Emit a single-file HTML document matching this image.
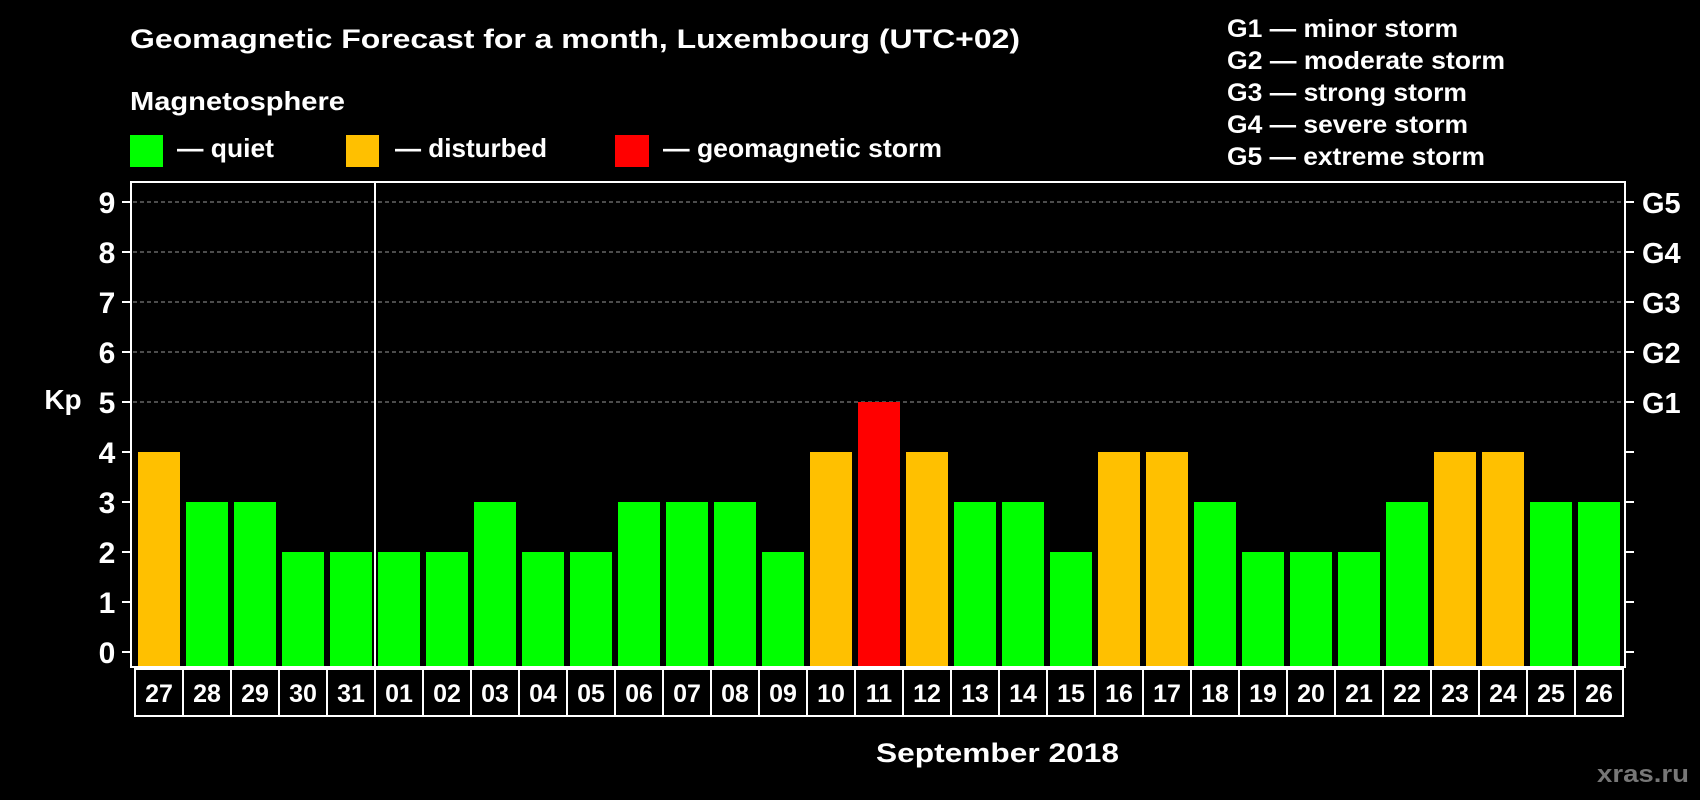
<!DOCTYPE html>
<html><head><meta charset="utf-8"><style>
html,body{margin:0;padding:0;background:#000;}
svg{display:block;font-family:"Liberation Sans",Arial,sans-serif;font-weight:bold;}
</style></head><body>
<svg id="chart" width="1700" height="800" viewBox="0 0 1700 800">
<rect x="0" y="0" width="1700" height="800" fill="#000"/>
<text x="130" y="48" fill="#fff" font-size="27" textLength="890" lengthAdjust="spacingAndGlyphs">Geomagnetic Forecast for a month, Luxembourg (UTC+02)</text>
<text x="130" y="110" fill="#fff" font-size="26" textLength="215" lengthAdjust="spacingAndGlyphs">Magnetosphere</text>
<rect x="130" y="135" width="33" height="32" fill="#00ff00"/>
<text x="177" y="157" fill="#fff" font-size="26" textLength="97" lengthAdjust="spacingAndGlyphs">— quiet</text>
<rect x="346" y="135" width="33" height="32" fill="#ffc000"/>
<text x="395" y="157" fill="#fff" font-size="26" textLength="152" lengthAdjust="spacingAndGlyphs">— disturbed</text>
<rect x="615" y="135" width="34" height="32" fill="#ff0000"/>
<text x="663" y="157" fill="#fff" font-size="26" textLength="279" lengthAdjust="spacingAndGlyphs">— geomagnetic storm</text>
<g fill="#fff" font-size="25">
<text x="1227" y="37" textLength="231" lengthAdjust="spacingAndGlyphs">G1 — minor storm</text>
<text x="1227" y="69" textLength="278" lengthAdjust="spacingAndGlyphs">G2 — moderate storm</text>
<text x="1227" y="101" textLength="240" lengthAdjust="spacingAndGlyphs">G3 — strong storm</text>
<text x="1227" y="133" textLength="241" lengthAdjust="spacingAndGlyphs">G4 — severe storm</text>
<text x="1227" y="165" textLength="258" lengthAdjust="spacingAndGlyphs">G5 — extreme storm</text>
</g>
<g id="grid"></g>
<g id="bars"></g>
<rect x="131" y="182" width="1494" height="485" fill="none" stroke="#fff" stroke-width="2"/>
<line x1="375" y1="182" x2="375" y2="667" stroke="#fff" stroke-width="2"/>
<g id="axes"></g>
<text x="63" y="409" fill="#fff" font-size="28" text-anchor="middle">Kp</text>
<text x="876" y="762" fill="#fff" font-size="27" textLength="243" lengthAdjust="spacingAndGlyphs">September 2018</text>
<text x="1597" y="782" fill="#777" font-size="24" textLength="92" lengthAdjust="spacingAndGlyphs">xras.ru</text>
</svg>
<script>
const days = ["27","28","29","30","31","01","02","03","04","05","06","07","08","09","10","11","12","13","14","15","16","17","18","19","20","21","22","23","24","25","26"];
const kpValues = [4,3,3,2,2,2,2,3,2,2,3,3,3,2,4,5,4,3,3,2,4,4,3,2,2,2,3,4,4,3,3];
const yTicks = [0,1,2,3,4,5,6,7,8,9];
const gLabels = ["G1","G2","G3","G4","G5"];
const gLevels = [5,6,7,8,9];

const NS = "http://www.w3.org/2000/svg";
const y = v => 652 - v * 50;
const xStart = i => 138 + i * 48;
const color = v => v >= 5 ? "#ff0000" : (v >= 4 ? "#ffc000" : "#00ff00");
function mk(tag, attrs, parent){const e=document.createElementNS(NS,tag);for(const k in attrs)e.setAttribute(k,attrs[k]);parent.appendChild(e);return e;}
const grid=document.getElementById("grid"), bars=document.getElementById("bars"), axes=document.getElementById("axes");

yTicks.forEach(t=>{
  if(t>=5){
    const gl=mk("line",{x1:133,x2:1623,y1:y(t),y2:y(t),stroke:"#999","stroke-width":1,"stroke-dasharray":"4,3"},grid);
    
    
  }
  const tl=mk("line",{x1:122,x2:131,y1:y(t),y2:y(t),stroke:"#fff","stroke-width":2},axes);
  
  
  const tr=mk("line",{x1:1625,x2:1634,y1:y(t),y2:y(t),stroke:"#fff","stroke-width":2},axes);
  
  
  const lb=mk("text",{x:107,y:y(t)+11,fill:"#fff","font-size":30,"text-anchor":"middle"},axes);
  lb.textContent=t;
  
  
});
gLabels.forEach((g,i)=>{
  const lb=mk("text",{x:1642,y:y(gLevels[i])+11,fill:"#fff","font-size":29},axes);
  lb.textContent=g;
  
  
});
kpValues.forEach((v,i)=>{
  const b=mk("rect",{x:xStart(i),y:y(v),width:42,height:667-y(v),fill:color(v)},bars);
  
  
});
days.forEach((d,i)=>{
  const bx=mk("rect",{x:135+i*48,y:669,width:48,height:47,fill:"#000",stroke:"#fff","stroke-width":2},axes);
  
  
  const t=mk("text",{x:159+i*48,y:702,fill:"#fff","font-size":25,"text-anchor":"middle"},axes);
  t.textContent=d;
  
  
});
</script>
</body></html>
